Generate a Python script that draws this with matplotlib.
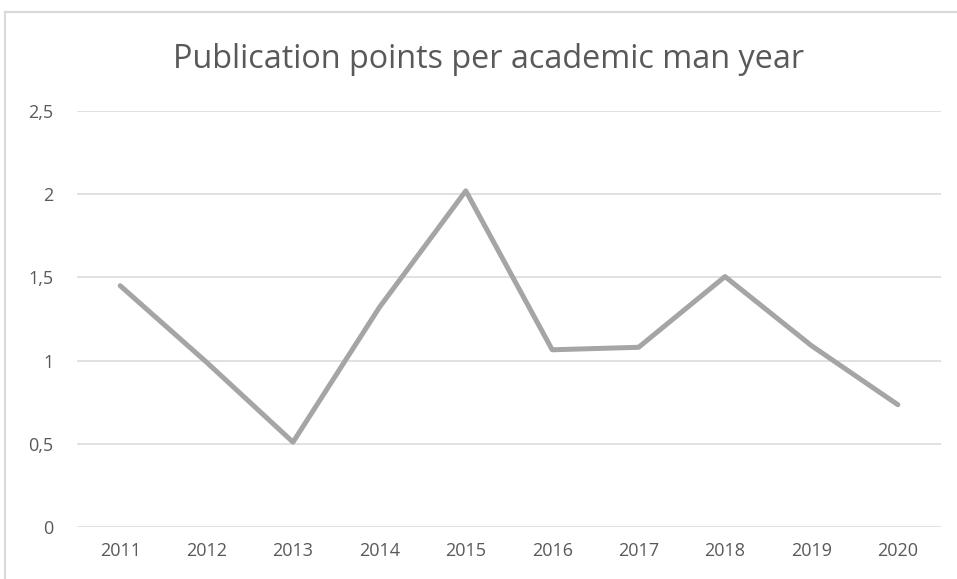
import matplotlib
matplotlib.use("Agg")
import matplotlib.pyplot as plt
from matplotlib.lines import Line2D

years = ["2011", "2012", "2013", "2014", "2015", "2016", "2017", "2018", "2019", "2020"]
points = [1.45, 0.99, 0.51, 1.32, 2.02, 1.065, 1.08, 1.505, 1.09, 0.735]
y_ticks = [0, 0.5, 1, 1.5, 2, 2.5]
y_tick_labels = ["0", "0,5", "1", "1,5", "2", "2,5"]
title = "Publication points per academic man year"

plt.rcParams['font.family'] = ['Open Sans', 'DejaVu Sans']
W, H = 957, 579
fig = plt.figure(figsize=(W / 100, H / 100), dpi=100)
fig.patch.set_facecolor("white")

ax = fig.add_axes([77 / W, 1 - 527 / H, (941 - 77) / W, (527 - 111) / H])
x = list(range(len(years)))
ax.plot(x, points, color="#a5a5a5", linewidth=3.6, solid_capstyle="round",
        solid_joinstyle="round", zorder=3)
ax.set_xlim(-0.5, len(years) - 0.5)
ax.set_ylim(0, 2.5)
ax.set_yticks(y_ticks)
ax.set_yticklabels(y_tick_labels)
ax.set_xticks(x)
ax.set_xticklabels(years)
ax.grid(axis="y", color="#d9d9d9", linewidth=1.1, zorder=0)
ax.set_axisbelow(True)
for s in ax.spines.values():
    s.set_visible(False)
ax.tick_params(axis="both", length=0, labelcolor="#595959", labelsize=13)
ax.tick_params(axis="y", pad=17)
ax.tick_params(axis="x", pad=11)
for lbl in ax.get_yticklabels():
    lbl.set_horizontalalignment("right")

fig.text(489 / W, 1 - 60 / H, title, ha="center", va="center",
         fontsize=23.3, color="#595959")

# chart frame (partially cropped)
fig.add_artist(Line2D([5 / W, 1.0], [1 - 12 / H, 1 - 12 / H], color="#d9d9d9", linewidth=1.5))
fig.add_artist(Line2D([5 / W, 5 / W], [0, 1 - 12 / H], color="#d9d9d9", linewidth=1.5))

fig.savefig("out.png", dpi=100, facecolor="white")
